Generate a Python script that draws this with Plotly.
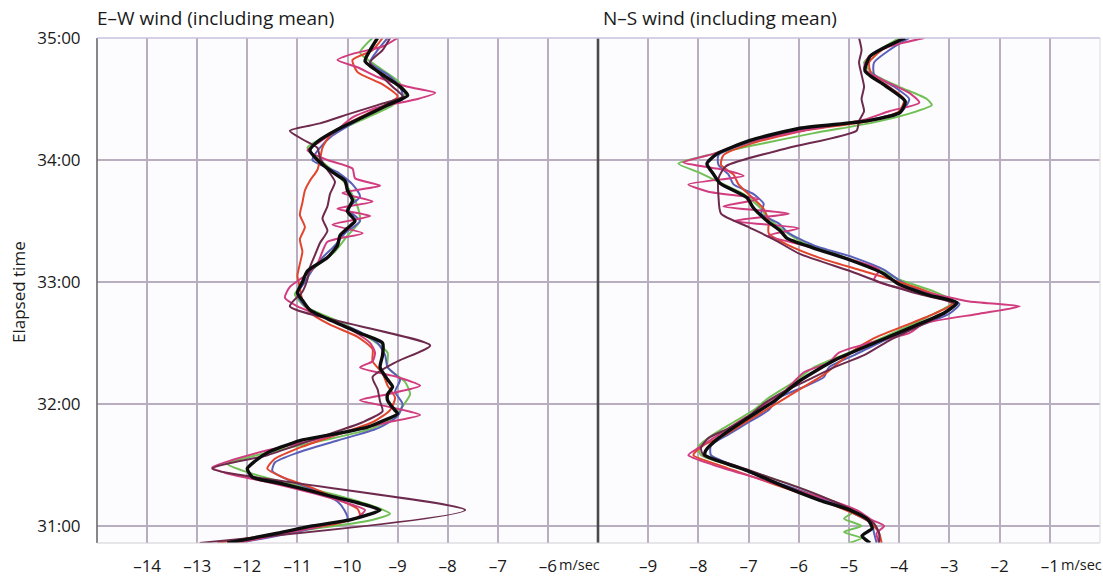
import plotly.graph_objects as go
from plotly.subplots import make_subplots

# ---------------- E-W wind (left panel) ----------------
ew_mean_t = [35.00, 34.90, 34.81, 34.70, 34.60, 34.53, 34.45, 34.35, 34.25, 34.15, 34.08, 34.00, 33.90, 33.83,
             33.75, 33.67, 33.58, 33.50, 33.44, 33.38, 33.30, 33.20, 33.09, 33.00, 32.91, 32.85, 32.77, 32.68,
             32.58, 32.50, 32.40, 32.30, 32.20, 32.14, 32.08, 32.03, 31.97, 31.92, 31.86, 31.81, 31.75, 31.70,
             31.65, 31.60, 31.53, 31.47, 31.40, 31.35, 31.29, 31.24, 31.19, 31.13, 31.09, 31.05, 31.00, 30.94, 30.86]
ew_mean_v = [-9.4, -9.55, -9.65, -9.3, -8.95, -8.8, -9.2, -9.7, -10.2, -10.6, -10.75, -10.6, -10.3, -10.05,
             -10.0, -9.9, -10.0, -9.85, -10.0, -10.15, -10.2, -10.4, -10.8, -10.9, -11.0, -10.9, -10.75, -10.3,
             -9.75, -9.3, -9.3, -9.35, -9.2, -9.1, -9.2, -9.2, -9.1, -9.0, -9.3, -9.6, -10.3, -10.95,
             -11.3, -11.6, -11.85, -12.0, -11.9, -11.35, -10.75, -10.3, -9.8, -9.35, -9.6, -9.95, -10.7, -11.4, -12.4]

ew_green_t = [35.00, 34.88, 34.78, 34.65, 34.55, 34.45, 34.35, 34.22, 34.10, 34.00, 33.88, 33.75, 33.62, 33.50,
              33.38, 33.25, 33.10, 33.00, 32.90, 32.80, 32.68, 32.55, 32.42, 32.30, 32.18, 32.08, 31.98, 31.90,
              31.80, 31.70, 31.60, 31.51, 31.44, 31.35, 31.25, 31.15, 31.10, 31.04, 30.97, 30.86]
ew_green_v = [-9.5, -9.75, -9.45, -9.0, -8.85, -9.1, -9.6, -10.3, -10.8, -10.55, -10.2, -9.95, -9.8, -9.75,
              -10.0, -10.25, -10.7, -10.85, -11.05, -10.85, -10.2, -9.6, -9.2, -9.2, -8.85, -8.75, -8.9, -9.05,
              -9.5, -10.5, -11.6, -12.4, -12.0, -11.2, -10.2, -9.4, -9.15, -9.6, -10.8, -12.3]

ew_blue_t = [35.00, 34.90, 34.80, 34.70, 34.60, 34.50, 34.40, 34.30, 34.20, 34.10, 34.00, 33.90, 33.80, 33.70,
             33.60, 33.50, 33.40, 33.30, 33.20, 33.10, 33.00, 32.90, 32.80, 32.70, 32.60, 32.50, 32.40, 32.30,
             32.20, 32.10, 32.00, 31.90, 31.80, 31.70, 31.60, 31.52, 31.45, 31.38, 31.30, 31.20, 31.12, 31.06,
             31.00, 30.92, 30.86]
ew_blue_v = [-9.2, -9.4, -9.55, -9.2, -8.95, -8.9, -9.5, -9.9, -10.3, -10.55, -10.7, -10.2, -9.9, -9.75,
             -10.0, -9.75, -10.05, -10.25, -10.5, -10.7, -10.85, -11.0, -10.85, -10.4, -9.8, -9.4, -9.25, -9.2,
             -8.95, -9.05, -8.9, -9.0, -9.4, -10.2, -11.0, -11.45, -11.5, -11.2, -10.7, -10.2, -10.05, -10.0,
             -10.5, -11.4, -12.2]

ew_red_t = [35.00, 34.90, 34.82, 34.72, 34.62, 34.52, 34.42, 34.32, 34.20, 34.10, 34.00, 33.92, 33.83, 33.75,
            33.65, 33.55, 33.45, 33.35, 33.25, 33.15, 33.05, 32.95, 32.85, 32.75, 32.65, 32.55, 32.45, 32.35,
            32.25, 32.15, 32.05, 31.95, 31.85, 31.75, 31.65, 31.55, 31.47, 31.40, 31.32, 31.22, 31.14, 31.08,
            31.02, 30.95, 30.86]
ew_red_v = [-9.3, -9.5, -9.9, -9.8, -9.3, -9.0, -9.4, -9.9, -10.35, -10.5, -10.55, -10.6, -10.75, -10.85,
            -10.9, -10.95, -10.85, -10.95, -10.9, -10.95, -11.0, -10.95, -10.9, -10.75, -10.35, -9.8, -9.5, -9.5,
            -9.3, -9.2, -9.05, -9.15, -9.5, -10.2, -10.9, -11.45, -11.6, -11.3, -10.75, -10.2, -9.8, -9.75,
            -10.2, -11.2, -12.6]

ew_pink_t = [35.00, 34.93, 34.87, 34.82, 34.76, 34.68, 34.60, 34.55, 34.50, 34.43, 34.35, 34.25, 34.15, 34.08,
             34.00, 33.93, 33.85, 33.79, 33.73, 33.66, 33.60, 33.54, 33.47, 33.40, 33.33, 33.25, 33.15, 33.05,
             32.96, 32.87, 32.80, 32.70, 32.60, 32.50, 32.42, 32.35, 32.30, 32.22, 32.15, 32.08, 32.03, 31.97,
             31.91, 31.85, 31.78, 31.70, 31.62, 31.54, 31.48, 31.43, 31.36, 31.28, 31.20, 31.13, 31.07, 31.02,
             30.96, 30.86]
ew_pink_v = [-9.0, -9.3, -9.9, -10.2, -9.8, -9.4, -8.8, -8.25, -8.6, -9.4, -9.9, -10.2, -10.55, -10.8,
             -10.4, -9.9, -9.85, -9.35, -10.1, -9.5, -10.2, -9.55, -10.3, -9.7, -10.4, -10.5, -10.6, -10.85,
             -11.15, -11.25, -11.0, -10.4, -9.9, -9.55, -9.45, -9.5, -9.75, -9.0, -8.55, -9.2, -9.75, -9.1,
             -8.55, -9.2, -9.9, -10.7, -11.6, -12.3, -12.7, -12.4, -11.6, -10.8, -10.1, -9.65, -9.8, -10.3,
             -11.0, -12.2]

ew_maroon_t = [35.00, 34.90, 34.80, 34.70, 34.60, 34.52, 34.45, 34.38, 34.30, 34.24, 34.17, 34.10, 34.02,
               33.92, 33.82, 33.72, 33.62, 33.52, 33.42, 33.32, 33.22, 33.12, 33.02, 32.92, 32.80, 32.48,
               32.35, 32.22, 32.12, 32.02, 31.94, 31.85, 31.72, 31.58, 31.47, 31.13, 30.86]
ew_maroon_v = [-9.15, -9.3, -9.55, -9.35, -9.1, -8.9, -9.4, -9.95, -10.55, -11.15, -10.9, -10.6, -10.55,
               -10.4, -10.25, -10.35, -10.4, -10.5, -10.4, -10.55, -10.65, -10.75, -10.8, -10.9, -11.15, -8.35,
               -9.0, -9.5, -9.4, -9.35, -9.3, -9.7, -10.6, -11.6, -12.7, -7.65, -12.95]

# ---------------- N-S wind (right panel) ----------------
ns_mean_t = [35.00, 34.92, 34.85, 34.73, 34.61, 34.48, 34.39, 34.32, 34.26, 34.16, 34.05, 33.97, 33.89, 33.81,
             33.69, 33.61, 33.50, 33.42, 33.36, 33.28, 33.18, 33.07, 32.99, 32.89, 32.83, 32.75, 32.64, 32.52,
             32.36, 32.19, 32.03, 31.87, 31.72, 31.62, 31.58, 31.46, 31.32, 31.21, 31.13, 31.05, 30.98, 30.92, 30.86]
ns_mean_v = [-3.88, -4.3, -4.58, -4.68, -4.28, -3.88, -3.98, -4.64, -5.98, -6.97, -7.63, -7.83, -7.71, -7.57,
             -7.03, -6.91, -6.63, -6.37, -6.24, -5.72, -4.98, -4.32, -4.04, -3.39, -2.85, -3.09, -3.69, -4.38,
             -5.28, -5.98, -6.47, -7.07, -7.6, -7.85, -7.87, -7.07, -6.27, -5.58, -4.98, -4.62, -4.54, -4.74, -4.58]

ns_green_t = [35.00, 34.90, 34.80, 34.70, 34.60, 34.50, 34.45, 34.38, 34.30, 34.22, 34.12, 34.03, 33.97, 33.90,
              33.82, 33.72, 33.62, 33.52, 33.42, 33.32, 33.22, 33.12, 33.02, 32.92, 32.84, 32.76, 32.66, 32.55,
              32.42, 32.30, 32.18, 32.05, 31.95, 31.85, 31.75, 31.65, 31.58, 31.50, 31.40, 31.30, 31.20, 31.12,
              31.06, 31.00, 30.95, 30.90, 30.86]
ns_green_v = [-4.0, -4.4, -4.7, -4.5, -4.0, -3.45, -3.35, -3.8, -4.6, -5.7, -6.9, -7.9, -8.4, -8.0,
              -7.6, -7.1, -6.8, -6.6, -6.3, -5.9, -5.2, -4.5, -4.0, -3.3, -2.9, -3.2, -3.7, -4.3,
              -5.0, -5.7, -6.1, -6.6, -6.9, -7.3, -7.7, -8.0, -7.95, -7.4, -6.6, -5.9, -5.3, -4.9,
              -5.1, -4.75, -5.1, -4.75, -5.0]

ns_blue_t = [35.00, 34.90, 34.80, 34.70, 34.60, 34.50, 34.40, 34.32, 34.24, 34.14, 34.04, 33.96, 33.88, 33.80,
             33.72, 33.64, 33.56, 33.48, 33.40, 33.30, 33.20, 33.10, 33.00, 32.90, 32.82, 32.74, 32.64, 32.52,
             32.40, 32.30, 32.22, 32.14, 32.05, 31.95, 31.85, 31.75, 31.66, 31.58, 31.48, 31.38, 31.28, 31.18,
             31.10, 31.02, 30.94, 30.86]
ns_blue_v = [-3.8, -4.2, -4.5, -4.5, -4.1, -3.8, -3.95, -4.7, -6.0, -7.0, -7.6, -7.6, -7.4, -7.3,
             -6.9, -6.7, -6.75, -6.4, -6.2, -5.7, -4.9, -4.3, -3.95, -3.4, -2.8, -3.0, -3.6, -4.3,
             -4.9, -5.4, -5.5, -5.9, -6.4, -6.6, -7.0, -7.4, -7.75, -7.75, -7.2, -6.6, -5.9, -5.3,
             -4.9, -4.55, -4.5, -4.45]

ns_red_t = [35.00, 34.90, 34.80, 34.70, 34.60, 34.50, 34.40, 34.32, 34.24, 34.14, 34.04, 33.96, 33.88, 33.80,
            33.70, 33.60, 33.50, 33.40, 33.30, 33.20, 33.10, 33.00, 32.90, 32.82, 32.74, 32.64, 32.54, 32.44,
            32.34, 32.24, 32.14, 32.04, 31.94, 31.84, 31.74, 31.66, 31.58, 31.50, 31.40, 31.30, 31.20, 31.10,
            31.02, 30.94, 30.86]
ns_red_v = [-3.9, -4.35, -4.6, -4.55, -4.2, -3.9, -4.0, -4.6, -5.9, -6.9, -7.5, -7.55, -7.3, -7.2,
            -6.95, -6.7, -6.6, -6.6, -6.2, -5.6, -4.8, -4.0, -3.3, -2.95, -3.3, -3.9, -4.5, -4.9,
            -5.2, -5.5, -5.9, -6.3, -6.7, -7.1, -7.5, -7.9, -8.1, -7.6, -6.9, -6.2, -5.5, -4.9,
            -4.55, -4.4, -4.35]

ns_pink_t = [35.00, 34.93, 34.85, 34.75, 34.65, 34.55, 34.47, 34.40, 34.33, 34.25, 34.15, 34.05, 33.98, 33.92,
             33.87, 33.80, 33.74, 33.68, 33.62, 33.56, 33.50, 33.44, 33.38, 33.30, 33.20, 33.10, 33.02, 32.96,
             32.90, 32.84, 32.80, 32.74, 32.66, 32.58, 32.50, 32.42, 32.34, 32.26, 32.18, 32.10, 32.02, 31.95,
             31.88, 31.80, 31.72, 31.64, 31.58, 31.50, 31.40, 31.30, 31.20, 31.12, 31.05, 31.00, 30.94, 30.86]
ns_pink_v = [-3.5, -4.2, -4.6, -4.7, -4.3, -3.8, -3.6, -4.2, -4.7, -5.8, -7.0, -7.7, -8.3, -7.5,
             -7.1, -8.2, -7.8, -6.8, -7.5, -6.2, -7.3, -6.0, -6.6, -5.9, -5.1, -4.4, -4.5, -4.1,
             -3.3, -2.6, -1.6, -2.4, -3.5, -3.8, -4.6, -5.2, -5.4, -5.9, -6.1, -6.3, -6.6, -6.8,
             -7.1, -7.4, -7.7, -8.0, -8.2, -7.7, -6.9, -6.1, -5.3, -4.8, -4.55, -4.3, -4.45, -4.4]

ns_maroon_t = [35.00, 34.90, 34.80, 34.70, 34.60, 34.50, 34.40, 34.32, 34.24, 34.10, 33.95, 33.85, 33.70,
               33.56, 33.45, 33.35, 33.23, 33.09, 33.00, 32.90, 32.82, 32.74, 32.64, 32.52, 32.40, 32.30,
               32.20, 32.10, 32.00, 31.90, 31.80, 31.72, 31.64, 31.58, 31.50, 31.40, 31.30, 31.20, 31.10,
               31.02, 30.94, 30.86]
ns_maroon_v = [-4.8, -4.75, -4.8, -4.75, -4.7, -4.75, -4.7, -4.8, -4.85, -6.2, -7.45, -7.6, -7.6,
               -7.55, -7.0, -6.5, -5.98, -4.98, -4.4, -3.6, -2.9, -3.1, -3.6, -4.2, -4.7, -5.3,
               -5.8, -6.3, -6.7, -7.0, -7.4, -7.8, -7.95, -7.9, -7.3, -6.6, -5.9, -5.3, -4.8,
               -4.5, -4.4, -4.4]

y_tickvals = [31, 32, 33, 34, 35]
y_ticktext = ["31:00", "32:00", "33:00", "34:00", "35:00"]
ew_tickvals = [-14, -13, -12, -11, -10, -9, -8, -7, -6]
ns_tickvals = [-9, -8, -7, -6, -5, -4, -3, -2, -1]

FONT = "Open Sans"
C_GREEN = "#72c055"
C_BLUE = "#5a5fb8"
C_RED = "#e2452b"
C_PINK = "#d03c7e"
C_MAROON = "#6d2a4c"
C_BLACK = "#0d0d0d"

fig = make_subplots(rows=1, cols=2, shared_yaxes=True, horizontal_spacing=0)

def add(t, v, color, width, col):
    fig.add_trace(go.Scatter(x=v, y=t, mode="lines",
                             line=dict(color=color, width=width, shape="spline", smoothing=0.6),
                             showlegend=False, hoverinfo="skip"), row=1, col=col)

for col, series in [(1, [(ew_green_t, ew_green_v, C_GREEN), (ew_blue_t, ew_blue_v, C_BLUE),
                         (ew_red_t, ew_red_v, C_RED), (ew_pink_t, ew_pink_v, C_PINK),
                         (ew_maroon_t, ew_maroon_v, C_MAROON)]),
                    (2, [(ns_green_t, ns_green_v, C_GREEN), (ns_blue_t, ns_blue_v, C_BLUE),
                         (ns_red_t, ns_red_v, C_RED), (ns_pink_t, ns_pink_v, C_PINK),
                         (ns_maroon_t, ns_maroon_v, C_MAROON)])]:
    for t, v, c in series:
        add(t, v, c, 2.0, col)
add(ew_mean_t, ew_mean_v, C_BLACK, 3.4, 1)
add(ns_mean_t, ns_mean_v, C_BLACK, 3.4, 2)

GRID = "#b8aec0"
W, H = 1103, 578
ML, MR, MT, MB = 97, 3, 38, 35
pw = W - ML - MR
ph = H - MT - MB
split = 501 / pw

axis_common = dict(showgrid=True, gridcolor=GRID, gridwidth=1.8, zeroline=False, automargin=False,
                   showline=False)

fig.update_layout(
    width=W, height=H,
    margin=dict(l=ML, r=MR, t=MT, b=MB, autoexpand=False),
    paper_bgcolor="white", plot_bgcolor="#fcfcfe",
    font=dict(family=FONT, size=17, color="#1a1a1a"),
    xaxis=dict(domain=[0, split], range=[-15, -5], tickvals=ew_tickvals,
               ticktext=["–" + str(abs(v)) for v in ew_tickvals],
               ticks="outside", ticklen=8, tickcolor="rgba(0,0,0,0)", **axis_common),
    xaxis2=dict(domain=[split, 1], range=[-10, 0], tickvals=ns_tickvals,
                ticktext=["–" + str(abs(v)) for v in ns_tickvals],
                ticks="outside", ticklen=8, tickcolor="rgba(0,0,0,0)", **axis_common),
    yaxis=dict(range=[30.86, 35.0], tickvals=y_tickvals, ticktext=y_ticktext,
               ticks="outside", ticklen=12, tickcolor="rgba(0,0,0,0)", **axis_common),
    yaxis2=dict(range=[30.86, 35.0], tickvals=y_tickvals, showticklabels=False, **axis_common),
)

shapes = [
    dict(type="line", xref="paper", yref="paper", x0=0, x1=0, y0=0, y1=1, line=dict(color="#6a6a6a", width=1.6)),
    dict(type="line", xref="paper", yref="paper", x0=split, x1=split, y0=0, y1=1, line=dict(color="#4a4a4a", width=2.6)),
    dict(type="line", xref="paper", yref="paper", x0=0, x1=1, y0=1, y1=1, line=dict(color="#c9c2dc", width=1.4)),
    dict(type="line", xref="paper", yref="paper", x0=0, x1=1, y0=0, y1=0, line=dict(color="#cfcfd6", width=1.2)),
    dict(type="line", xref="paper", yref="paper", x0=1, x1=1, y0=0, y1=1, line=dict(color="#dcdce2", width=1)),
]
fig.update_layout(shapes=shapes)

def px_x(p):
    return (p - ML) / pw
def px_y(p):
    return (H - MB - p) / ph

annotations = [
    dict(text="E–W wind (including mean)", x=px_x(95), y=px_y(18), xref="paper", yref="paper",
         xanchor="left", yanchor="middle", showarrow=False, font=dict(size=19, color="#1a1a1a")),
    dict(text="N–S wind (including mean)", x=px_x(601), y=px_y(18), xref="paper", yref="paper",
         xanchor="left", yanchor="middle", showarrow=False, font=dict(size=19, color="#1a1a1a")),
    dict(text="Elapsed time", x=px_x(18), y=px_y(292), xref="paper", yref="paper", textangle=-90,
         xanchor="center", yanchor="middle", showarrow=False, font=dict(size=17, color="#1a1a1a")),
    dict(text="m/sec", x=px_x(557), y=px_y(564), xref="paper", yref="paper",
         xanchor="left", yanchor="middle", showarrow=False, font=dict(size=14.5, color="#1a1a1a")),
    dict(text="m/sec", x=px_x(1059), y=px_y(564), xref="paper", yref="paper",
         xanchor="left", yanchor="middle", showarrow=False, font=dict(size=14.5, color="#1a1a1a")),
]
fig.update_layout(annotations=annotations)

fig.write_html("out.html", config={"displayModeBar": False},
               post_script="document.body.style.margin='0';document.body.style.padding='0';")
